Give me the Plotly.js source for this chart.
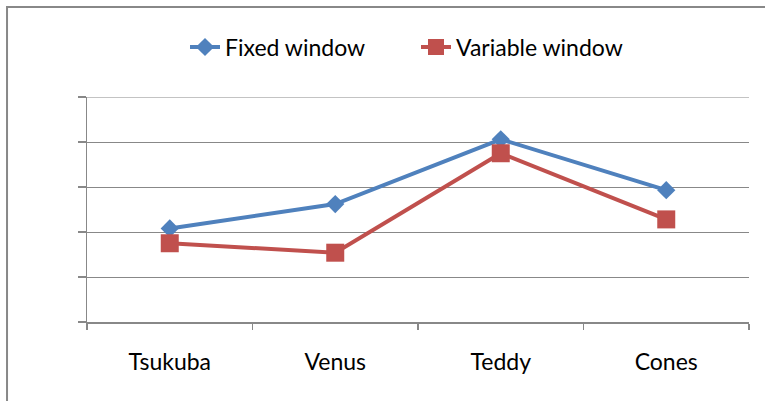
<!DOCTYPE html>
<html>
<head>
<meta charset="utf-8">
<script src="https://cdn.plot.ly/plotly-3.0.1.min.js"></script>
<style>html,body{margin:0;padding:0;background:#fff;}#chart{width:765px;height:401px;}</style>
</head>
<body>
<div id="chart"></div>
<script>
const categories = ["Tsukuba", "Venus", "Teddy", "Cones"];
const fixedWindow = [2.08, 2.62, 4.06, 2.93];
const variableWindow = [1.75, 1.54, 3.75, 2.28];
const seriesNames = ["Fixed window", "Variable window"];
const yMax = 5;

const FONT = "Lato, 'Open Sans', sans-serif";
const traces = [
  {x: categories, y: fixedWindow, name: seriesNames[0], type: "scatter", mode: "lines+markers", legend: "legend",
   line: {color: "#4F81BD", width: 4}, marker: {symbol: "diamond", size: 14, color: "#4F81BD"}},
  {x: categories, y: variableWindow, name: seriesNames[1], type: "scatter", mode: "lines+markers", legend: "legend2",
   line: {color: "#C0504D", width: 4}, marker: {symbol: "square", size: 18, color: "#C0504D"}}
];
const legendBase = {orientation: "h", yanchor: "middle", y: 1.222, xanchor: "left",
  font: {family: FONT, size: 23, color: "#000"}, bgcolor: "rgba(0,0,0,0)", borderwidth: 0};
const layout = {
  width: 765, height: 401,
  margin: {l: 87, r: 16, t: 97, b: 79},
  paper_bgcolor: "#fff", plot_bgcolor: "#fff",
  font: {family: FONT, size: 23, color: "#000"},
  showlegend: true,
  legend: Object.assign({}, legendBase, {x: (185 - 87) / 662}),
  legend2: Object.assign({}, legendBase, {x: (416 - 87) / 662}),
  xaxis: {type: "category", range: [-0.5, 3.5], tickson: "boundaries", ticks: "outside", ticklen: 6,
          tickcolor: "#888", tickwidth: 1.5, showgrid: false, showline: true, linecolor: "#888", linewidth: 1.5,
          zeroline: false, ticklabelstandoff: 19, tickfont: {family: FONT, size: 23, color: "#000"}},
  yaxis: {range: [0, yMax], tick0: 0, dtick: 1, showticklabels: false, ticks: "outside", ticklen: 8, tickcolor: "#888",
          tickwidth: 1.5, showgrid: true, gridcolor: "#888", gridwidth: 1, showline: true, linecolor: "#888",
          linewidth: 1.5, zeroline: false},
  shapes: [
    {type: "rect", xref: "paper", yref: "paper", x0: -0.1208, x1: 2, y0: -1, y1: 1.4,
     line: {color: "#888", width: 2}, layer: "below"},
    {type: "line", xref: "paper", yref: "y", x0: 0, x1: 1, y0: yMax, y1: yMax,
     line: {color: "#888", width: 1}, layer: "below"}
  ]
};
Plotly.newPlot("chart", traces, layout, {displayModeBar: false, staticPlot: true});
</script>
</body>
</html>
